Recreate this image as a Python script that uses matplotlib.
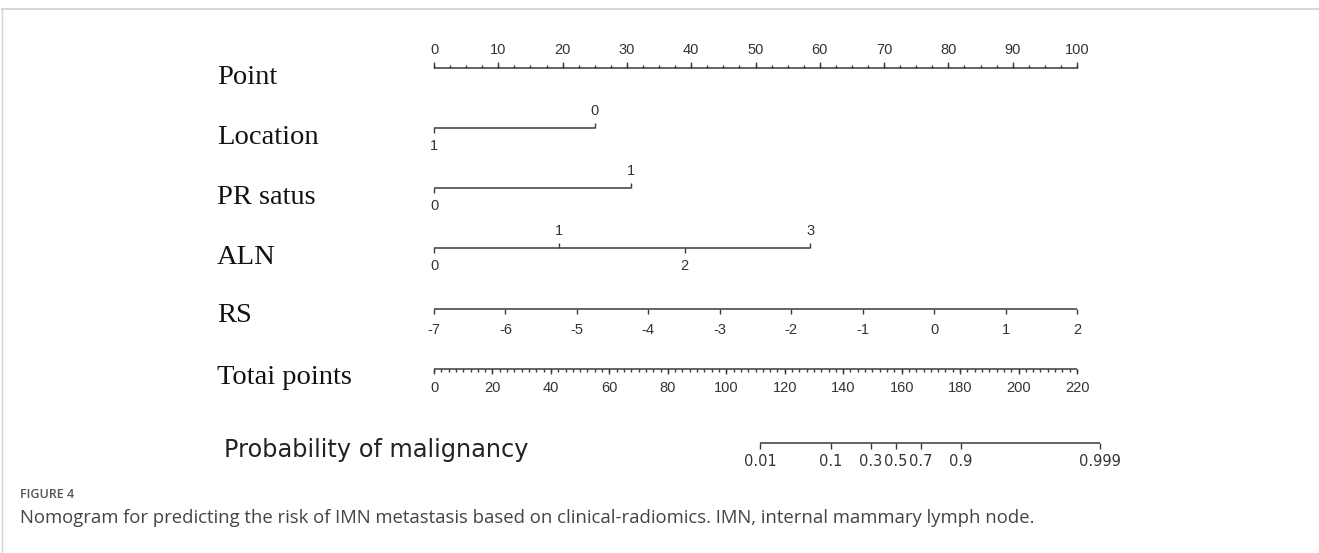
import numpy as np
import matplotlib
matplotlib.use('Agg')
import matplotlib.pyplot as plt
from matplotlib.lines import Line2D

# ---- nomogram data (points scale 0-100) ----
point_ticks = np.arange(0, 101, 10)
point_minor = np.arange(0, 100.1, 2.5)

location_levels = ['1', '0']
location_points = [0, 25.0]

pr_levels = ['0', '1']
pr_points = [0, 30.6]

aln_levels = ['0', '1', '2', '3']
aln_points = [0, 19.5, 39.0, 58.5]

rs_values = np.arange(-7, 3, 1)
rs_points = np.linspace(0, 100, len(rs_values))

total_ticks = np.arange(0, 221, 20)
total_minor = np.arange(0, 220.1, 2.5)
total_max = 220

prob_values = [0.01, 0.1, 0.3, 0.5, 0.7, 0.9, 0.999]
prob_labels = ['0.01', '0.1', '0.3', '0.5', '0.7', '0.9', '0.999']
lp_center = 158.0   # total points where probability = 0.5
lp_slope = 0.099    # logit per total point

row_names = ['Point', 'Location', 'PR satus', 'ALN', 'RS', 'Totai points']

W, H = 1319, 553
fig = plt.figure(figsize=(W / 100, H / 100), dpi=100)
ax = fig.add_axes([0, 0, 1, 1])
# x in "points" units, y in pixel rows
x0_px, x100_px = 434, 1077
ppu = (x100_px - x0_px) / 100.0
ax.set_xlim(-x0_px / ppu, (W - x0_px) / ppu)
ax.set_ylim(H, 0)
ax.axis('off')

lc = '#3a3a3a'
tc = '#333333'
tick_font = dict(family=['Liberation Sans', 'DejaVu Sans'], fontsize=10.5, color=tc)
serif = dict(family=['Liberation Serif', 'DejaVu Serif'], fontsize=20.5, color='#111111')

row_y = [68, 128, 188, 248, 309, 369]
label_y = [77, 137, 197, 257, 316, 377]


def hline(a, b, y):
    ax.plot([a, b], [y, y], color=lc, lw=1.1, solid_capstyle='butt')


def tick(x, y, length):
    ax.plot([x, x], [y, y + length], color=lc, lw=1.0, solid_capstyle='butt')


# Point row
y = row_y[0]
hline(0, 100, y)
for v in point_minor:
    tick(v, y, -3)
for v in point_ticks:
    tick(v, y, -6)
    ax.text(v, y - 18, str(v), ha='center', va='center', **tick_font)


def cat_row(y, pts, labs, up_flags):
    hline(min(pts), max(pts), y)
    for p, l, up in zip(pts, labs, up_flags):
        if up:
            tick(p, y, -5)
            ax.text(p, y - 17, l, ha='center', va='center', **tick_font)
        else:
            tick(p, y, 5)
            ax.text(p, y + 18, l, ha='center', va='center', **tick_font)


cat_row(row_y[1], location_points, location_levels, [False, True])
cat_row(row_y[2], pr_points, pr_levels, [False, True])
cat_row(row_y[3], aln_points, aln_levels, [False, True, False, True])

# RS row
y = row_y[4]
hline(rs_points[0], rs_points[-1], y)
for p, v in zip(rs_points, rs_values):
    tick(p, y, 5)
    ax.text(p, y + 21, str(v), ha='center', va='center', **tick_font)

# Total points row
y = row_y[5]
scale = 100.0 / total_max
hline(0, 100, y)
for v in total_minor:
    tick(v * scale, y, 3)
for v in total_ticks:
    tick(v * scale, y, 5)
    ax.text(v * scale, y + 19, str(v), ha='center', va='center', **tick_font)

# Probability row
y = 443
prob_tp = [lp_center + np.log(p / (1 - p)) / lp_slope for p in prob_values]
prob_x = [t * scale for t in prob_tp]
hline(prob_x[0], prob_x[-1], y)
for px, lab in zip(prob_x, prob_labels):
    tick(px, y, 6)
    ax.text(px, y + 18, lab, ha='center', va='center',
            family=['DejaVu Sans'], fontsize=10.5, color=tc)

# row names
name_x = (217 - x0_px) / ppu
for name, ly in zip(row_names, label_y):
    ax.text(name_x, ly, name, ha='left', va='center', **serif)
ax.text((224 - x0_px) / ppu, 450, 'Probability of malignancy', ha='left', va='center',
        family=['DejaVu Sans'], fontsize=17.3, color='#222222')

# frame and caption
fig.add_artist(Line2D([2 / W, 1], [1 - 9 / H, 1 - 9 / H], color='#d6d6d6', lw=1.5))
fig.add_artist(Line2D([2 / W, 2 / W], [0, 1 - 9 / H], color='#d6d6d6', lw=1.0))
fig.text(20 / W, 1 - 494 / H, 'FIGURE 4', ha='left', va='center',
         family=['Open Sans', 'DejaVu Sans'], fontsize=9, fontweight='semibold',
         color='#555555')
fig.text(20 / W, 1 - 518 / H,
         'Nomogram for predicting the risk of IMN metastasis based on clinical-radiomics. '
         'IMN, internal mammary lymph node.',
         ha='left', va='center', family=['Open Sans', 'DejaVu Sans'],
         fontsize=13.35, color='#444444')

fig.savefig('out.png', dpi=100)
